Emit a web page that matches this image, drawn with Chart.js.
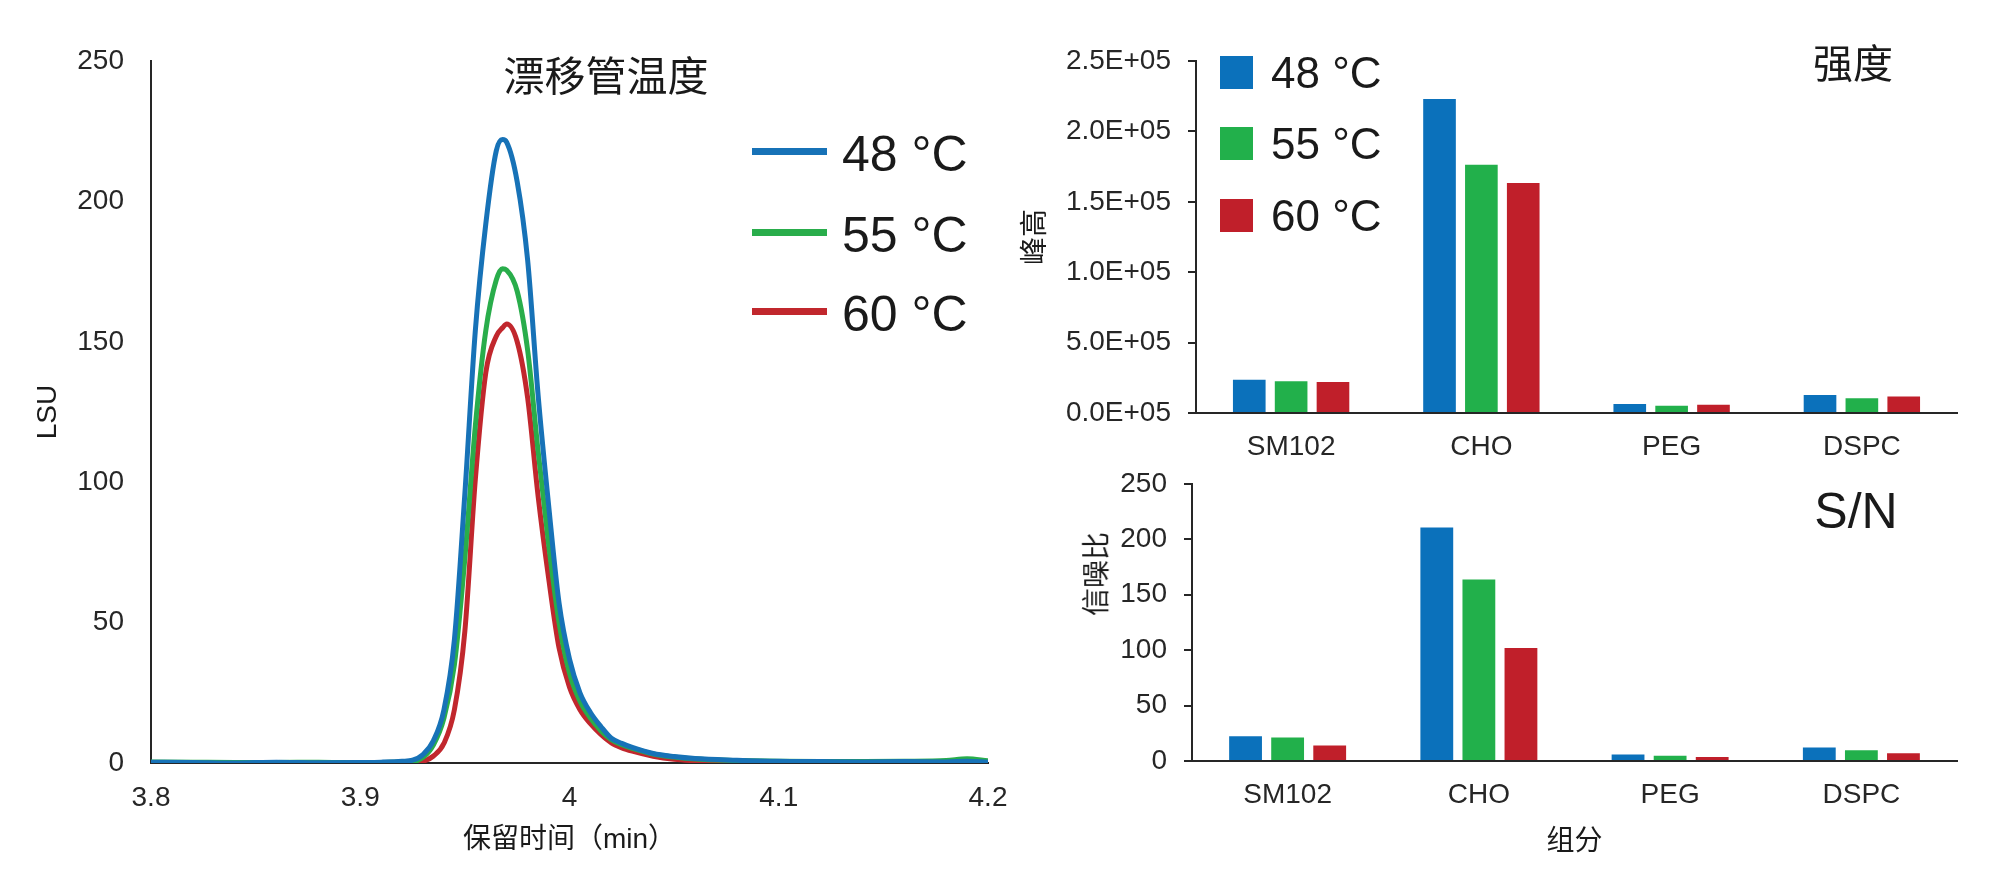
<!DOCTYPE html>
<html lang="zh">
<head>
  <meta charset="UTF-8">
  <title>漂移管温度</title>
  <script src="https://cdn.jsdelivr.net/npm/chart.js"></script>
  <style>
    body { margin: 0; background: #fff; }
    #wrap {
      position: relative;
      width: 2000px;
      height: 891px;
      overflow: hidden;
      font-family: 'Liberation Sans', 'Noto Sans CJK SC', sans-serif;
      color: #1a1a1a;
    }
    canvas { position: absolute; }
    .txt {
      position: absolute;
      white-space: nowrap;
      line-height: 1.2;
      transform: translate(-50%, -50%);
    }
    .txt-left { transform: translate(0, -50%); }
    .mark { position: absolute; }
  </style>
</head>
<body>

<div id="wrap">
  <canvas id="lsu-chart" width="1030" height="891" style="left:0; top:0;"></canvas>
  <canvas id="peak-chart" width="1000" height="470" style="left:1000px; top:0;"></canvas>
  <canvas id="sn-chart" width="1000" height="441" style="left:1000px; top:450px;"></canvas>
</div>

<script>
  // 系列
  const seriesLabels = ['48 °C', '55 °C', '60 °C'];
  const lineColors = ['#1772b7', '#29ad4b', '#c1272d'];
  const barColors = ['#0b71bb', '#22b04b', '#c01f2a'];

  // 色谱图 (保留时间 min / LSU)
  const times = [3.8, 3.82, 3.84, 3.86, 3.88, 3.9, 3.91, 3.92, 3.925, 3.93, 3.935, 3.94, 3.945, 3.95,
    3.955, 3.96, 3.965, 3.968, 3.97, 3.975, 3.98, 3.985, 3.99, 3.995, 4.0, 4.005, 4.01, 4.015,
    4.02, 4.025, 4.03, 4.04, 4.05, 4.06, 4.08, 4.1, 4.12, 4.14, 4.16, 4.18, 4.19, 4.2];
  const lsu48 = [0.3, 0.2, 0.0, 0.3, 0.1, 0.2, 0.3, 0.6, 1.0, 3.0, 8.0, 19, 44, 96,
    154, 192, 218, 222, 221, 207, 179, 131, 92, 57, 37, 25, 18, 13,
    8.8, 7.0, 5.6, 3.4, 2.3, 1.6, 1.0, 0.6, 0.5, 0.4, 0.5, 0.4, 0.6, 0.3];
  const lsu55 = [0.4, 0.3, 0.2, 0.2, 0.3, 0.1, 0.2, 0.4, 0.5, 2.0, 6.5, 16, 35, 73,
    120, 154, 172, 176, 175.5, 168, 147, 111, 78, 50, 32, 22, 16, 11.5,
    8.3, 6.5, 5.2, 3.2, 2.1, 1.4, 0.9, 0.6, 0.5, 0.5, 0.6, 0.9, 1.5, 0.8];
  const lsu60 = [0.2, 0.1, 0.2, 0.1, 0.0, 0.1, 0.2, 0.2, 0.2, 0.6, 2.5, 7.0, 19, 47,
    101, 139, 152, 155, 156.3, 150, 130, 95, 66, 41, 27, 19, 14, 10.2,
    7.2, 5.4, 4.2, 2.4, 1.3, 0.8, 0.4, 0.2, 0.2, 0.1, 0.2, 0.2, 0.3, 0.2];
  const timeTicks = ['3.8', '3.9', '4', '4.1', '4.2'];
  const lsuTicks = ['0', '50', '100', '150', '200', '250'];

  // 组分
  const components = ['SM102', 'CHO', 'PEG', 'DSPC'];
  // 峰高
  const peak48 = [23700, 223000, 6400, 12800];
  const peak55 = [22500, 176300, 5200, 10400];
  const peak60 = [22000, 163300, 5900, 11800];
  const peakTicks = ['0.0E+05', '5.0E+05', '1.0E+05', '1.5E+05', '2.0E+05', '2.5E+05'];
  // 信噪比
  const sn48 = [22.4, 210.5, 5.8, 12.2];
  const sn55 = [21.2, 163.7, 4.7, 9.6];
  const sn60 = [14.0, 102.0, 3.5, 7.0];
  const snTicks = ['0', '50', '100', '150', '200', '250'];

  const FONT = "'Liberation Sans', 'Noto Sans CJK SC', sans-serif";
  const INK = '#262626';

  Chart.defaults.font.family = FONT;
  Chart.defaults.color = INK;
  Chart.defaults.animation = false;
  Chart.defaults.plugins.legend.display = false;
  Chart.defaults.plugins.tooltip.enabled = false;

  const wrap = document.getElementById('wrap');

  // 文字を置く
  function addText(text, x, y, size, cls, extra) {
    const d = document.createElement('div');
    d.className = 'txt' + (cls ? ' ' + cls : '');
    d.textContent = text;
    d.style.left = x + 'px';
    d.style.top = y + 'px';
    d.style.fontSize = size + 'px';
    if (extra) d.style.transform = extra;
    wrap.appendChild(d);
  }

  // ---------- 左: 色谱图 ----------
  const lsuSeries = [lsu48, lsu55, lsu60];
  new Chart(document.getElementById('lsu-chart'), {
    type: 'line',
    data: {
      datasets: lsuSeries.map((vals, i) => ({
        label: seriesLabels[i],
        data: times.map((t, j) => ({ x: t, y: vals[j] })),
        borderColor: lineColors[i],
        borderWidth: 5,
        pointRadius: 0,
        cubicInterpolationMode: 'monotone',
        fill: false
      }))
    },
    options: {
      responsive: false,
      // 右端 = 1030 - 42 = 988
      layout: { padding: { left: 0, top: 61, right: 42, bottom: 28 } },
      scales: {
        x: {
          type: 'linear',
          min: 3.8,
          max: 4.2,
          afterFit: (s) => { s.height = 100; },
          grid: { display: false, drawTicks: false },
          border: { display: true, color: INK, width: 2 },
          ticks: {
            stepSize: 0.1,
            padding: 18,
            font: { size: 28 },
            callback: (v, i) => timeTicks[i]
          },
          title: {
            display: true,
            text: '保留时间（min）',
            font: { size: 28 },
            color: '#1a1a1a',
            padding: { top: 0, bottom: 6 }
          }
        },
        y: {
          min: 0,
          max: 250,
          afterFit: (s) => { s.width = 151; },
          grid: { display: false, drawTicks: false },
          border: { display: true, color: INK, width: 2 },
          ticks: {
            stepSize: 50,
            padding: 27,
            font: { size: 28 },
            callback: (v, i) => lsuTicks[i]
          },
          title: {
            display: true,
            text: 'LSU',
            font: { size: 28 },
            color: '#1a1a1a',
            padding: { top: 31, bottom: 0 }
          }
        }
      }
    }
  });

  // ---------- 右: 棒グラフ ----------
  function barChart(canvasId, series, ticks, max, step, opts) {
    return new Chart(document.getElementById(canvasId), {
      type: 'bar',
      data: {
        labels: components,
        datasets: series.map((vals, i) => ({
          label: seriesLabels[i],
          data: vals,
          backgroundColor: barColors[i],
          borderWidth: 0,
          categoryPercentage: 0.66,
          barPercentage: 0.78
        }))
      },
      options: {
        responsive: false,
        layout: { padding: opts.padding },
        scales: {
          x: {
            afterFit: (s) => { s.height = opts.xHeight; },
            grid: { display: false, drawTicks: false },
            border: { display: true, color: INK, width: 2 },
            ticks: { padding: 17, font: { size: 28 } },
            title: opts.xTitle
          },
          y: {
            min: 0,
            max: max,
            afterFit: (s) => { s.width = opts.yWidth; },
            grid: { display: true, drawOnChartArea: false, drawTicks: true, tickLength: 8, color: INK, lineWidth: 2 },
            border: { display: true, color: INK, width: 2 },
            ticks: {
              stepSize: step,
              padding: opts.tickPad,
              font: { size: 28 },
              callback: (v, i) => ticks[i]
            },
            title: opts.yTitle
          }
        }
      }
    });
  }

  barChart('peak-chart', [peak48, peak55, peak60], peakTicks, 250000, 50000, {
    padding: { left: 0, top: 61, right: 43, bottom: 0 },
    xHeight: 57,
    yWidth: 196,
    tickPad: 17,
    xTitle: { display: false },
    yTitle: {
      display: true,
      text: '峰高',
      font: { size: 28 },
      color: '#1a1a1a',
      padding: { top: 19, bottom: 0 }
    }
  });

  barChart('sn-chart', [sn48, sn55, sn60], snTicks, 250, 50, {
    padding: { left: 0, top: 25, right: 43, bottom: 20 },
    xHeight: 110,
    yWidth: 192,
    tickPad: 17,
    xTitle: {
      display: true,
      text: '组分',
      font: { size: 28 },
      color: '#1a1a1a',
      padding: { top: 0, bottom: 12 }
    },
    yTitle: { display: false }
  });

  // ---------- タイトル・凡例 ----------
  addText('漂移管温度', 606, 78, 41);
  addText('强度', 1853, 64, 40);
  addText('S/N', 1856, 511, 50);
  addText('信噪比', 1097, 574, 28, '', 'translate(-50%, -50%) rotate(-90deg)');

  // 左の凡例 (線)
  const lineLegendY = [152, 233, 312];
  seriesLabels.forEach((lab, i) => {
    const m = document.createElement('div');
    m.className = 'mark';
    m.style.cssText = `left:752px; top:${lineLegendY[i] - 4}px; width:75px; height:7px; background:${lineColors[i]};`;
    wrap.appendChild(m);
    addText(lab, 842, lineLegendY[i] + 2, 50, 'txt-left');
  });

  // 右上の凡例 (四角)
  const boxLegendY = [72, 143, 215];
  seriesLabels.forEach((lab, i) => {
    const m = document.createElement('div');
    m.className = 'mark';
    m.style.cssText = `left:1220px; top:${boxLegendY[i] - 16.5}px; width:33px; height:33px; background:${barColors[i]};`;
    wrap.appendChild(m);
    addText(lab, 1271, boxLegendY[i] + 1, 44, 'txt-left');
  });
</script>

</body>
</html>
